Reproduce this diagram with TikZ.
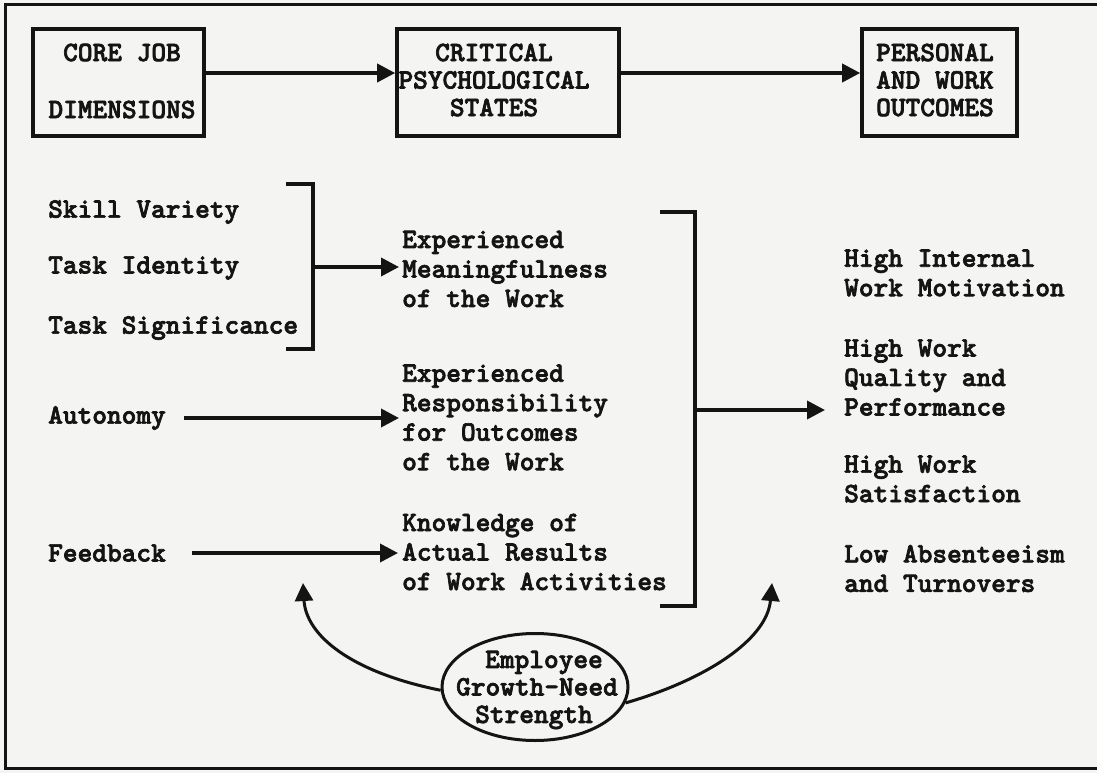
\documentclass[tikz,border=0pt]{standalone}
\usepackage{fontspec}
\usetikzlibrary{arrows.meta,shapes.geometric}
\definecolor{paper}{HTML}{F4F4F2}
\definecolor{ink}{HTML}{141414}
% heavy typewriter face
\newfontfamily\twfont{lmmonolt10-bold.otf}[FakeBold=2.4]
\newcommand{\typeface}[2]{\twfont\fontsize{#1}{#2}\selectfont}
\begin{document}
\begin{tikzpicture}[x=1pt,y=-1pt,
  ink/.style={draw=ink,line width=3.6pt},
  arr/.style={ink,-{Triangle[length=18pt,width=18pt]}},
  bent/.style={draw=ink,line width=3pt,-{Triangle[length=18pt,width=18pt]}},
  tw/.style={text=ink,font=\typeface{28}{29.5},inner sep=0pt,align=left},
  boxtw/.style={text=ink,font=\typeface{28}{27.5},inner sep=0pt},
  frame/.style={ink,minimum height=107pt,inner sep=0pt},
]
% paper and outer frame
\fill[paper] (0,0) rectangle (1097,773);
\useasboundingbox (0,0) rectangle (1097,773);
\draw[ink,line width=3pt] (1097,5) -- (5,5) -- (5,768) -- (1097,768);

% header boxes
\node[frame,minimum width=171pt] (b1) at (118.5,82.5) {};
\node[boxtw,align=center] (b1t) at (122,81) {CORE JOB\\[29.5pt]DIMENSIONS};
\node[frame,minimum width=222pt] (b2) at (508,82.5) {};
\node[boxtw,align=center] (b2t) at (494,80) {CRITICAL\\PSYCHOLOGICAL\\STATES};
\node[frame,minimum width=155pt] (b3) at (939.5,82.5) {};
\node[boxtw,align=left,anchor=west] (b3t) at (876,80) {PERSONAL\\AND WORK\\OUTCOMES};
\draw[arr] (b1.east |- 0,73) -- (b2.west |- 0,73);
\draw[arr] (b2.east |- 0,73) -- (b3.west |- 0,73);

% core job dimensions
\node[tw,anchor=west] (sv) at (48,212) {Skill Variety};
\node[tw,anchor=west] (ti) at (48,268) {Task Identity};
\node[tw,anchor=west] (ts) at (48,328) {Task Significance};
\node[tw,anchor=west] (au) at (48,418) {Autonomy};
\node[tw,anchor=west] (fb) at (48,553) {Feedback};

% critical psychological states
\node[tw,anchor=west] (mean) at (402,269) {Experienced\\Meaningfulness\\of the Work};
\node[tw,anchor=west] (resp) at (402,417.5) {Experienced\\Responsibility\\for Outcomes\\of the Work};
\node[tw,anchor=west] (know) at (402,552) {Knowledge of\\Actual Results\\of Work Activities};

% outcomes
\node[tw,anchor=west] (mot) at (844,273) {High Internal\\Work Motivation};
\node[tw,anchor=west] (perf) at (844,377.5) {High Work\\Quality and\\Performance};
\node[tw,anchor=west] (sat) at (844,479) {High Work\\Satisfaction};
\node[tw,anchor=west] (abs) at (844,568.5) {Low Absenteeism\\and Turnovers};

% first bracket and its arrow
\draw[ink] (286,184) -| (313,349) -- (286,349);
\coordinate (br1) at (313,267);
\draw[arr,shorten >=3pt] (br1) -- (br1 -| mean.west);
\draw[arr,shorten <=18pt,shorten >=3pt] (au.east) -- (au.east -| resp.west);
\draw[arr,shorten <=26pt,shorten >=4pt] (fb.east) -- (fb.east -| know.west);

% second bracket and its arrow
\draw[ink] (660,212) -| (695,606) -- (660,606);
\coordinate (br2) at (695,410);
\draw[arr,shorten >=19pt] (br2) -- (br2 -| perf.west);

% growth-need strength
\node[draw=ink,line width=3pt,ellipse,minimum width=186pt,minimum height=107pt,inner sep=0pt] (gns) at (535,687) {};
\node[boxtw,align=center] (gnst) at (537,690) {\hspace*{14pt}Employee\\Growth-Need\\Strength\hspace*{6pt}};
\coordinate (tipL) at (303,583);
\coordinate (tipR) at (772,583);
\draw[bent] (gns.182) .. controls (350,672) and (306,635) .. (tipL);
\draw[bent] (gns.-10) .. controls (705,680) and (767,640) .. (tipR);
\end{tikzpicture}
\end{document}
